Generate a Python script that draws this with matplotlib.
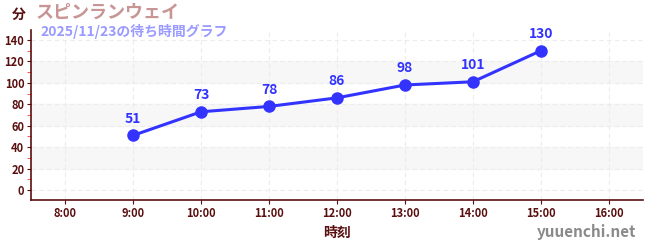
import matplotlib
matplotlib.use('Agg')
import matplotlib.pyplot as plt
from matplotlib.ticker import MultipleLocator

plt.rcParams['font.family'] = ['Noto Sans CJK JP', 'DejaVu Sans']

# data
hours = [9, 10, 11, 12, 13, 14, 15]
waits = [51, 73, 78, 86, 98, 101, 130]
tick_hours = list(range(8, 17))
tick_labels = [f'{h}:00' for h in tick_hours]

dark = '#5a0f0f'
blue = '#3333ff'

fig = plt.figure(figsize=(6.5, 2.5), dpi=100)
ax = fig.add_axes([0.048, 0.2, 0.941, 0.68])

ax.set_xlim(7.5, 16.5)
ax.set_ylim(-9.3, 149.3)

# alternating bands
for lo in (20, 60, 100):
    ax.axhspan(lo, lo + 20, color='#f7f7f7', zorder=0)

ax.set_xticks(tick_hours)
ax.set_xticklabels(tick_labels)
ax.set_yticks(range(0, 141, 20))
ax.yaxis.set_minor_locator(MultipleLocator(10))
ax.grid(True, which='major', color='#ececec', linestyle=(0, (4, 3)), linewidth=0.8)

ax.plot(hours, waits, color=blue, linewidth=2.2, marker='o', markersize=8, zorder=3)
for h, w in zip(hours, waits):
    ax.annotate(str(w), (h, w), xytext=(0, 7), textcoords='offset points',
                ha='center', va='bottom', color=blue, fontsize=10, fontweight='bold')

for s in ('top', 'right'):
    ax.spines[s].set_visible(False)
for s in ('left', 'bottom'):
    ax.spines[s].set_color(dark)
    ax.spines[s].set_linewidth(1.2)

ax.tick_params(axis='both', which='major', colors=dark, labelsize=8, length=3, pad=2)
ax.tick_params(axis='y', which='minor', colors='#ff3333', length=3)
for lbl in ax.get_xticklabels() + ax.get_yticklabels():
    lbl.set_fontweight('bold')

ax.set_xlabel('時刻', color=dark, fontsize=10, fontweight='bold', labelpad=4)

fig.text(0.018, 0.94, '分', color=dark, fontsize=10, fontweight='bold', va='center')
fig.text(0.055, 0.95, 'スピンランウェイ', color='#c89494', fontsize=13, fontweight='bold', va='center')
fig.text(0.062, 0.875, '2025/11/23の待ち時間グラフ', color='#9a9aff', fontsize=10, fontweight='bold', va='center')
fig.text(0.978, 0.07, 'yuuenchi.net', color='#8a8a8a', fontsize=11, fontweight='bold', ha='right', va='center')

fig.savefig('out.png', dpi=100)
